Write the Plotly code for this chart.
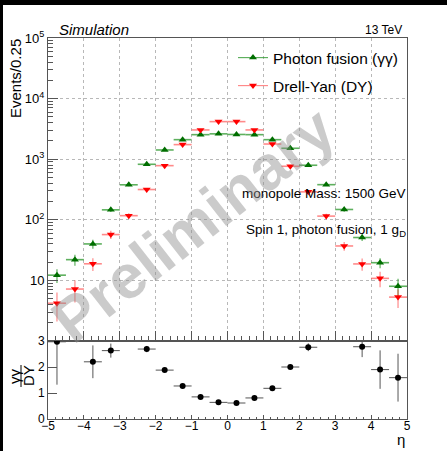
import plotly.graph_objects as go

# ---------------- data ----------------
eta = [-4.75, -4.25, -3.75, -3.25, -2.75, -2.25, -1.75, -1.25, -0.75, -0.25,
       0.25, 0.75, 1.25, 1.75, 2.25, 2.75, 3.25, 3.75, 4.25, 4.75]
bin_half_width = [0.25] * 20

photon_fusion = [12.2, 22, 40, 146, 378, 824, 1420, 2100, 2540, 2620,
                 2560, 2540, 2100, 1515, 795, 380, 148, 51, 19.6, 8.0]
photon_fusion_err = [3.1, 4.6, 6.8, 11.5, 19, 28, 37, 45, 50, 51,
                     50, 50, 45, 38, 28, 19, 12, 6.5, 3.7, 2.6]

drell_yan = [4.2, 7.2, 18.8, 57, 117, 316, 783, 1740, 3040, 4170,
             4170, 3040, 1780, 764, 289, 115, 37, 18.7, 10.8, 5.3]
drell_yan_err = [2.1, 2.9, 4.5, 8.7, 11, 18, 29, 43, 56, 66,
                 66, 56, 43, 28, 17, 11, 6.2, 4.3, 3.1, 1.8]

# ratio gamma-gamma / DY (None = outside the displayed 0-3 range)
ratio = [2.97, None, 2.2, 2.63, None, 2.69, 1.88, 1.27, 0.85, 0.64,
         0.615, 0.81, 1.18, 2.0, 2.76, None, None, 2.78, 1.9, 1.59]
ratio_err = [1.65, None, 0.63, 0.27, None, 0.12, 0.06, 0.04, 0.025, 0.02,
             0.02, 0.025, 0.04, 0.07, 0.15, None, None, 0.4, 0.74, 0.92]

y_tickvals = [10, 100, 1000, 10000, 100000]
y_ticktext = ["10", "10<sup>2</sup>", "10<sup>3</sup>", "10<sup>4</sup>", "10<sup>5</sup>"]
x_tickvals = [-5, -4, -3, -2, -1, 0, 1, 2, 3, 4, 5]
r_tickvals = [0, 1, 2, 3]

# ---------------- layout geometry (pixels) ----------------
W, H = 447, 451
L, R, T, B = 48, 40, 38, 32
PW, PH = W - L - R, H - T - B
SPLIT_PX = 341  # boundary between main and ratio pad


def xp(px):
    return (px - L) / PW


def yp(py):
    return (H - B - py) / PH


split = yp(SPLIT_PX)
FONT = "Liberation Sans, Arial, Helvetica, sans-serif"
GREEN_M = "rgb(0,110,0)"
GREEN_L = "rgba(40,150,40,0.75)"
RED_M = "rgb(255,0,0)"
RED_L = "rgba(255,60,60,0.6)"
AXC = "#555555"

fig = go.Figure()

fig.add_trace(go.Scatter(
    x=eta, y=photon_fusion, mode="markers", showlegend=False,
    marker=dict(symbol="triangle-up", size=7, color=GREEN_M),
    error_x=dict(type="data", array=bin_half_width, color=GREEN_L, thickness=1.6, width=0),
    error_y=dict(type="data", array=photon_fusion_err, color=GREEN_L, thickness=1.2, width=0),
    xaxis="x", yaxis="y"))

fig.add_trace(go.Scatter(
    x=eta, y=drell_yan, mode="markers", showlegend=False,
    marker=dict(symbol="triangle-down", size=7, color=RED_M),
    error_x=dict(type="data", array=bin_half_width, color=RED_L, thickness=1.6, width=0),
    error_y=dict(type="data", array=drell_yan_err, color=RED_L, thickness=1.2, width=0),
    xaxis="x", yaxis="y"))

# legend entries
fig.add_trace(go.Scatter(
    x=[None], y=[None], mode="lines+markers", name="Photon fusion (γγ)",
    line=dict(color=GREEN_L, width=1.2),
    marker=dict(symbol="triangle-up", size=7, color=GREEN_M),
    legend="legend", xaxis="x", yaxis="y"))
fig.add_trace(go.Scatter(
    x=[None], y=[None], mode="lines+markers", name="Drell-Yan (DY)",
    line=dict(color=RED_L, width=1.2),
    marker=dict(symbol="triangle-down", size=7, color=RED_M),
    legend="legend2", xaxis="x", yaxis="y"))

# ratio
fig.add_trace(go.Scatter(
    x=eta, y=ratio, mode="markers", showlegend=False,
    marker=dict(symbol="circle", size=6, color="black"),
    error_x=dict(type="data", array=bin_half_width, color="#555", thickness=1, width=0),
    error_y=dict(type="data", array=ratio_err, color="#555", thickness=1, width=0),
    xaxis="x2", yaxis="y2"))

minor_log = [k * 10 ** d for d in range(0, 5) for k in range(2, 10)]

fig.update_layout(
    width=W, height=H,
    margin=dict(l=L, r=R, t=T, b=B),
    paper_bgcolor="white", plot_bgcolor="white",
    font=dict(family=FONT, color="black"),
    xaxis=dict(domain=[0, 1], anchor="y", range=[-5, 5],
               showticklabels=False, ticks="inside", ticklen=10, tickcolor=AXC,
               tickmode="array", tickvals=x_tickvals,
               minor=dict(ticks="inside", ticklen=5, dtick=0.2, tick0=0, tickcolor=AXC, showgrid=False),
               showgrid=True, gridcolor="#b8b8b8", griddash="dot", gridwidth=1,
               showline=True, linecolor=AXC, linewidth=1, mirror=True, zeroline=False),
    yaxis=dict(domain=[split, 1], anchor="x", type="log", range=[0, 5],
               tickmode="array", tickvals=y_tickvals, ticktext=y_ticktext,
               ticks="inside", ticklen=10, tickcolor=AXC, tickfont=dict(size=13),
               minor=dict(ticks="inside", ticklen=5, tickvals=minor_log, tickcolor=AXC, showgrid=False),
               showgrid=True, gridcolor="#b8b8b8", griddash="dot", gridwidth=1,
               showline=True, linecolor=AXC, linewidth=1, mirror=True, zeroline=False),
    xaxis2=dict(domain=[0, 1], anchor="y2", range=[-5, 5], matches="x",
                tickmode="array", tickvals=x_tickvals, ticks="inside", ticklen=4, tickcolor=AXC,
                tickfont=dict(size=12), ticklabelstandoff=-4,
                minor=dict(ticks="inside", ticklen=2, dtick=0.2, tick0=0, tickcolor=AXC, showgrid=False),
                showgrid=False, showline=True, linecolor=AXC, linewidth=1, mirror=True, zeroline=False),
    yaxis2=dict(domain=[0, split], anchor="x2", range=[0, 3],
                tickmode="array", tickvals=r_tickvals, ticks="inside", ticklen=9, tickcolor=AXC,
                tickfont=dict(size=12),
                showgrid=False, showline=True, linecolor=AXC, linewidth=1, mirror=True, zeroline=False),
    legend=dict(x=xp(233), y=yp(58), xanchor="left", yanchor="middle",
                bgcolor="rgba(0,0,0,0)", font=dict(size=15.5, family=FONT), itemwidth=30),
    legend2=dict(x=xp(233), y=yp(86), xanchor="left", yanchor="middle",
                 bgcolor="rgba(0,0,0,0)", font=dict(size=15.5, family=FONT), itemwidth=30),
)

ann = []
ann.append(dict(text="<i>Simulation</i>", x=xp(57), y=yp(30), xanchor="left", yanchor="middle",
                font=dict(size=15)))
ann.append(dict(text="13 TeV", x=xp(404), y=yp(30), xanchor="right", yanchor="middle",
                font=dict(size=12)))
ann.append(dict(text="Events/0.25", x=xp(16), y=yp(79), xanchor="center", yanchor="middle",
                textangle=-90, font=dict(size=15)))
ann.append(dict(text="monopole Mass: 1500 GeV", x=xp(408), y=yp(193), xanchor="right", yanchor="middle",
                font=dict(size=13.5)))
ann.append(dict(text="Spin 1, photon fusion, 1 g<sub>D</sub>", x=xp(408), y=yp(230), xanchor="right",
                yanchor="middle", font=dict(size=13.5)))
ann.append(dict(text="η", x=xp(401), y=yp(439), xanchor="center", yanchor="middle",
                font=dict(size=15)))
ann.append(dict(text="γγ", x=xp(14), y=yp(376), xanchor="center", yanchor="middle",
                textangle=-90, font=dict(size=15)))
ann.append(dict(text="DY", x=xp(28), y=yp(376), xanchor="center", yanchor="middle",
                textangle=-90, font=dict(size=15)))
ann.append(dict(text="<b>Preliminary</b>", x=xp(193), y=yp(224), xanchor="center", yanchor="middle",
                textangle=-38, font=dict(size=62, color="rgba(140,140,140,0.45)")))
for a in ann:
    a.update(xref="paper", yref="paper", showarrow=False)
fig.update_layout(annotations=ann)

shapes = [
    # fraction bar of ratio title
    dict(type="line", xref="paper", yref="paper", x0=xp(21), x1=xp(21), y0=yp(365), y1=yp(387),
         line=dict(color="black", width=1)),
    # black border bands of the screenshot
    dict(type="rect", xref="paper", yref="paper", x0=xp(0), x1=xp(3), y0=yp(H), y1=yp(0),
         fillcolor="black", line=dict(width=0), layer="above"),
    dict(type="rect", xref="paper", yref="paper", x0=xp(0), x1=xp(W), y0=yp(5), y1=yp(0),
         fillcolor="black", line=dict(width=0), layer="above"),
]
fig.update_layout(shapes=shapes)

fig.write_html("out.html")
